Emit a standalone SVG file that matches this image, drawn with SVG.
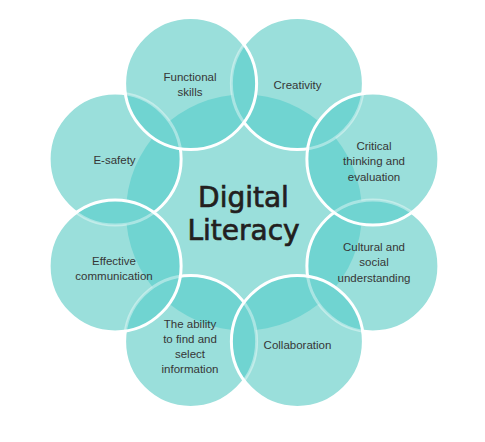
<svg xmlns="http://www.w3.org/2000/svg" width="485" height="442" viewBox="0 0 485 442">
<style>
.fill{fill:#9adfdb}
.dark{fill:#70d4d1}
.solid{fill:none;stroke:#ffffff;stroke-width:3}
.faint{fill:none;stroke:#ffffff;stroke-width:3;stroke-opacity:0.4}
.lbl{font-family:"Liberation Sans",Arial,sans-serif;font-size:11.5px;fill:#363636;text-anchor:middle}
.title{font-family:"DejaVu Sans",sans-serif;font-size:28px;fill:#231f20;stroke:#231f20;stroke-width:0.7;text-anchor:middle}
</style>
<defs>
<circle id="gO" cx="244" cy="212.5" r="118"/>
<circle id="gF" cx="190.62" cy="83.62" r="66"/>
<circle id="gC" cx="297.38" cy="83.62" r="66"/>
<circle id="gCT" cx="372.88" cy="159.12" r="66"/>
<circle id="gCU" cx="372.88" cy="265.88" r="66"/>
<circle id="gCO" cx="297.38" cy="341.38" r="66"/>
<circle id="gAB" cx="190.62" cy="341.38" r="66"/>
<circle id="gEC" cx="115.12" cy="265.88" r="66"/>
<circle id="gES" cx="115.12" cy="159.12" r="66"/>
<clipPath id="kF"><use href="#gF"/></clipPath>
<clipPath id="kC"><use href="#gC"/></clipPath>
<clipPath id="kCT"><use href="#gCT"/></clipPath>
<clipPath id="kCU"><use href="#gCU"/></clipPath>
<clipPath id="kCO"><use href="#gCO"/></clipPath>
<clipPath id="kAB"><use href="#gAB"/></clipPath>
<clipPath id="kEC"><use href="#gEC"/></clipPath>
<clipPath id="kES"><use href="#gES"/></clipPath>
<clipPath id="kOver"><use href="#gF"/><use href="#gCT"/><use href="#gCO"/><use href="#gEC"/></clipPath>
<mask id="mNotOver" maskUnits="userSpaceOnUse" x="0" y="0" width="485" height="442">
<rect x="0" y="0" width="485" height="442" fill="#ffffff"/>
<use href="#gF" fill="#000000"/><use href="#gCT" fill="#000000"/><use href="#gCO" fill="#000000"/><use href="#gEC" fill="#000000"/>
</mask>
</defs>
<g id="circles" class="fill">
<use href="#gO"/>
<use href="#gF"/><use href="#gC"/><use href="#gCT"/><use href="#gCU"/>
<use href="#gCO"/><use href="#gAB"/><use href="#gEC"/><use href="#gES"/>
</g>
<g id="overlaps" class="dark">
<use href="#gO" clip-path="url(#kF)"/>
<use href="#gO" clip-path="url(#kC)"/>
<use href="#gO" clip-path="url(#kCT)"/>
<use href="#gO" clip-path="url(#kCU)"/>
<use href="#gO" clip-path="url(#kCO)"/>
<use href="#gO" clip-path="url(#kAB)"/>
<use href="#gO" clip-path="url(#kEC)"/>
<use href="#gO" clip-path="url(#kES)"/>
<use href="#gF" clip-path="url(#kC)"/>
<use href="#gC" clip-path="url(#kCT)"/>
<use href="#gCT" clip-path="url(#kCU)"/>
<use href="#gCU" clip-path="url(#kCO)"/>
<use href="#gCO" clip-path="url(#kAB)"/>
<use href="#gAB" clip-path="url(#kEC)"/>
<use href="#gEC" clip-path="url(#kES)"/>
<use href="#gES" clip-path="url(#kF)"/>
</g>
<g id="under-strokes-solid" class="solid" mask="url(#mNotOver)">
<use href="#gC"/><use href="#gCU"/><use href="#gAB"/><use href="#gES"/>
</g>
<g id="under-strokes-faint" class="faint" clip-path="url(#kOver)">
<use href="#gC"/><use href="#gCU"/><use href="#gAB"/><use href="#gES"/>
</g>
<g id="over-strokes" class="solid">
<use href="#gF"/><use href="#gCT"/><use href="#gCO"/><use href="#gEC"/>
</g>
<g id="node-digital-literacy">
<text class="title" x="243.5" y="207">Digital</text>
<text class="title" x="243.5" y="240">Literacy</text>
</g>
<g id="node-functional-skills">
<text class="lbl" x="190" y="81">Functional</text>
<text class="lbl" x="190" y="96">skills</text>
</g>
<g id="node-creativity">
<text class="lbl" x="297.5" y="88.5">Creativity</text>
</g>
<g id="node-critical-thinking">
<text class="lbl" x="374" y="149.5">Critical</text>
<text class="lbl" x="374" y="165">thinking and</text>
<text class="lbl" x="374" y="180.5">evaluation</text>
</g>
<g id="node-cultural">
<text class="lbl" x="374" y="250.5">Cultural and</text>
<text class="lbl" x="374" y="266">social</text>
<text class="lbl" x="374" y="281.5">understanding</text>
</g>
<g id="node-collaboration">
<text class="lbl" x="297.5" y="348.5">Collaboration</text>
</g>
<g id="node-ability">
<text class="lbl" x="190" y="327.5">The ability</text>
<text class="lbl" x="190" y="342.5">to find and</text>
<text class="lbl" x="190" y="358">select</text>
<text class="lbl" x="190" y="373">information</text>
</g>
<g id="node-effective-communication">
<text class="lbl" x="114" y="265">Effective</text>
<text class="lbl" x="114" y="280">communication</text>
</g>
<g id="node-e-safety">
<text class="lbl" x="114.5" y="164">E-safety</text>
</g>
</svg>
